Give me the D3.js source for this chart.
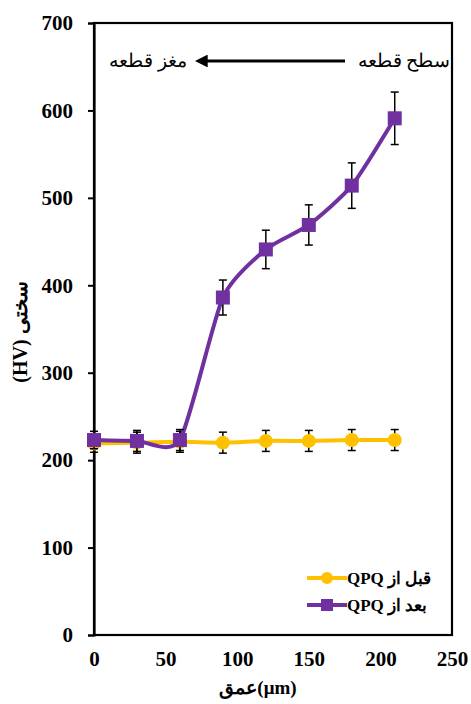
<!DOCTYPE html>
<html lang="fa">
<head>
<meta charset="UTF-8" />
<title>Hardness vs depth</title>
<style>
  body { margin: 0; background: #fff; }
  svg text { font-family: "Liberation Serif", "DejaVu Serif", serif; font-weight: bold; fill: #000; }
</style>
</head>
<body>
<svg id="chart" width="471" height="704"></svg>
<script src="https://cdn.jsdelivr.net/npm/d3@7/dist/d3.min.js"></script>
<script>
// depth (µm)
const depths = [0, 30, 60, 90, 120, 150, 180, 210];
// hardness before QPQ
const beforeQPQ = [219, 220, 221, 220, 222, 222, 223, 223];
const beforeErr = [10, 12, 12, 12, 12, 12, 12, 12];
// hardness after QPQ
const afterQPQ = [223, 222, 223, 386, 441, 469, 514, 591];
const afterErr = [10, 12, 12, 20, 22, 23, 26, 30];
const xTicks = [0, 50, 100, 150, 200, 250];
const yTicks = [0, 100, 200, 300, 400, 500, 600, 700];
const seriesNames = ["QPQ قبل از", "QPQ بعد از"];

const svg = d3.select("#chart");
const m = { left: 94, right: 452, top: 23, bottom: 635 };

const x = d3.scaleLinear().domain([0, 250]).range([m.left, m.right]);
const y = d3.scaleLinear().domain([0, 700]).range([m.bottom, m.top]);

// frame
svg.append("rect")
  .attr("x", m.left).attr("y", m.top)
  .attr("width", m.right - m.left).attr("height", m.bottom - m.top)
  .attr("fill", "none").attr("stroke", "#000").attr("stroke-width", 2.2);

// y axis
const yAxis = svg.append("g")
  .attr("transform", `translate(${m.left},0)`)
  .call(d3.axisLeft(y).tickValues(yTicks).tickSize(6).tickPadding(15));
yAxis.select(".domain").attr("stroke-width", 2.2);
yAxis.selectAll(".tick line").attr("stroke-width", 2);
yAxis.selectAll("text").style("font-size", "21px");

// x axis labels (no tick marks)
const xAxis = svg.append("g")
  .attr("transform", `translate(0,${m.bottom})`)
  .call(d3.axisBottom(x).tickValues(xTicks).tickSize(0).tickPadding(16));
xAxis.select(".domain").remove();
xAxis.selectAll("text").style("font-size", "21px");

// axis titles
svg.append("text")
  .attr("x", 258).attr("y", 694)
  .attr("text-anchor", "middle")
  .style("font-size", "19px")
  .text("عمق(μm)");

svg.append("text")
  .attr("transform", "translate(27,332) rotate(-90)")
  .attr("text-anchor", "middle")
  .attr("direction", "rtl")
  .style("font-size", "20px")
  .text("سختی (HV)");

// arrow annotation
svg.append("defs").append("marker")
  .attr("id", "arrowhead")
  .attr("viewBox", "0 0 10 10")
  .attr("refX", 6).attr("refY", 5)
  .attr("markerWidth", 4).attr("markerHeight", 4)
  .attr("orient", "auto")
  .append("path").attr("d", "M0,0 L10,5 L0,10 Z").attr("fill", "#000");

svg.append("line")
  .attr("x1", 345).attr("y1", 61).attr("x2", 200).attr("y2", 61)
  .attr("stroke", "#000").attr("stroke-width", 3.2)
  .attr("marker-end", "url(#arrowhead)");

svg.append("text")
  .attr("x", 404).attr("y", 67).attr("text-anchor", "middle")
  .style("font-size", "19px").style("font-weight", "normal")
  .text("سطح قطعه");
svg.append("text")
  .attr("x", 148).attr("y", 67).attr("text-anchor", "middle")
  .style("font-size", "19px").style("font-weight", "normal")
  .text("مغز قطعه");

const line = d3.line()
  .x((d, i) => x(depths[i]))
  .y(d => y(d))
  .curve(d3.curveCardinal.tension(0.35));

function drawSeries(values, errs, color, shape) {
  const g = svg.append("g");
  g.append("path")
    .datum(values)
    .attr("d", line)
    .attr("fill", "none")
    .attr("stroke", color)
    .attr("stroke-width", 4);

  const eb = g.selectAll(".err").data(values).join("g").attr("class", "err");
  eb.append("line")
    .attr("x1", (d, i) => x(depths[i])).attr("x2", (d, i) => x(depths[i]))
    .attr("y1", (d, i) => y(d + errs[i])).attr("y2", (d, i) => y(d - errs[i]))
    .attr("stroke", "#000").attr("stroke-width", 1.5);
  [1, -1].forEach(s => {
    eb.append("line")
      .attr("x1", (d, i) => x(depths[i]) - 4).attr("x2", (d, i) => x(depths[i]) + 4)
      .attr("y1", (d, i) => y(d + s * errs[i])).attr("y2", (d, i) => y(d + s * errs[i]))
      .attr("stroke", "#000").attr("stroke-width", 1.5);
  });

  if (shape === "circle") {
    g.selectAll("circle").data(values).join("circle")
      .attr("cx", (d, i) => x(depths[i])).attr("cy", d => y(d))
      .attr("r", 7).attr("fill", color);
  } else {
    g.selectAll("rect.mk").data(values).join("rect").attr("class", "mk")
      .attr("x", (d, i) => x(depths[i]) - 7).attr("y", d => y(d) - 7)
      .attr("width", 14).attr("height", 14).attr("fill", color);
  }
}

drawSeries(beforeQPQ, beforeErr, "#FFC000", "circle");
drawSeries(afterQPQ, afterErr, "#7030A0", "square");

// legend
const legend = [
  { name: seriesNames[0], color: "#FFC000", shape: "circle" },
  { name: seriesNames[1], color: "#7030A0", shape: "square" }
];
const lg = svg.append("g");
legend.forEach((d, i) => {
  const ly = 578 + i * 27;
  lg.append("line")
    .attr("x1", 307).attr("x2", 347).attr("y1", ly).attr("y2", ly)
    .attr("stroke", d.color).attr("stroke-width", 4);
  if (d.shape === "circle") {
    lg.append("circle").attr("cx", 327).attr("cy", ly).attr("r", 6).attr("fill", d.color);
  } else {
    lg.append("rect").attr("x", 321).attr("y", ly - 6).attr("width", 12).attr("height", 12).attr("fill", d.color);
  }
  lg.append("text")
    .attr("x", 347).attr("y", ly + 6)
    .style("font-size", "17px")
    .text(d.name);
});
</script>
</body>
</html>
